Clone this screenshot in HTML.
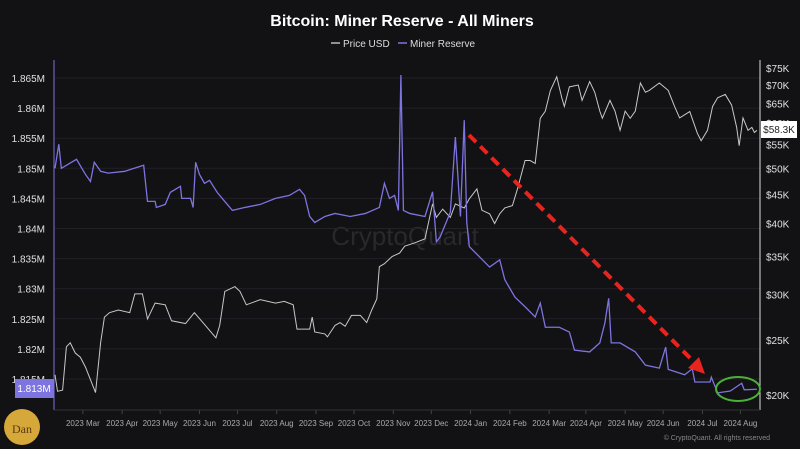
<!DOCTYPE html>
<html><head><meta charset="utf-8"><style>
html,body{margin:0;padding:0;background:#121114;}
svg{display:block;font-family:"Liberation Sans",sans-serif;}
</style></head><body>
<svg id="chart" width="800" height="449" viewBox="0 0 800 449">
<rect width="800" height="449" fill="#121114"/>
<text x="402" y="26" text-anchor="middle" fill="#ffffff" font-size="16" font-weight="bold">Bitcoin: Miner Reserve - All Miners</text>
<g>
<g><line x1="331" y1="43" x2="340" y2="43" stroke="#bbb" stroke-width="1.5"/><text x="343" y="47" fill="#ddd" font-size="10">Price USD</text></g>
<g><line x1="398" y1="43" x2="407" y2="43" stroke="#7d74e0" stroke-width="1.5"/><text x="410" y="47" fill="#ddd" font-size="10">Miner Reserve</text></g>
</g>
<text x="405" y="245" text-anchor="middle" fill="#2a282d" font-size="26">CryptoQuant</text>
<g id="grid"></g>
<g id="axes"></g>
<g id="series"></g>
<g>
<line x1="469" y1="135" x2="694" y2="362" stroke="#e8241f" stroke-width="4" stroke-dasharray="10,6"/>
<polygon points="705,374 688,368 699,357" fill="#e8241f"/>
</g>
<ellipse cx="738" cy="389" rx="22" ry="12" fill="none" stroke="#4caf38" stroke-width="2"/>
<g><rect x="15" y="379" width="39" height="19" fill="#7d74e0"/><text x="34" y="392" text-anchor="middle" fill="#fff" font-size="10">1.813M</text></g>
<g><rect x="761" y="121" width="36" height="17" fill="#fff"/><text x="779" y="133" text-anchor="middle" fill="#222" font-size="10">$58.3K</text></g>
<g><circle cx="22" cy="427" r="18" fill="#d6a83a"/><text x="22" y="433" text-anchor="middle" fill="#5a3a10" font-size="12" font-family="Liberation Serif,serif">Dan</text></g>
<text x="770" y="440" text-anchor="end" fill="#888" font-size="7">© CryptoQuant. All rights reserved</text>
</svg>
<script>
// day index 0 = 2023-02-07
const reserveDays=[0,3,5,17,24,28,31,36,42,55,70,73,79,80,87,91,99,100,107,109,111,114,118,122,128,134,140,150,162,174,185,193,197,201,205,213,221,233,245,256,260,264,268,271,273,275,280,292,298,301,304,312,316,320,323,325,327,335,343,351,355,363,371,379,383,387,398,406,410,422,430,434,437,439,446,458,466,477,482,484,497,503,505,517,518,523,533,542,544,554];
const reserveValues=[1.850,1.854,1.850,1.8515,1.849,1.8478,1.851,1.8495,1.8492,1.8495,1.8505,1.8445,1.8445,1.8435,1.844,1.846,1.847,1.845,1.845,1.8435,1.851,1.849,1.8475,1.848,1.846,1.8445,1.843,1.8435,1.844,1.845,1.8455,1.8465,1.8455,1.842,1.841,1.842,1.8425,1.842,1.8425,1.8435,1.8475,1.845,1.8455,1.843,1.8655,1.843,1.8425,1.842,1.8461,1.8378,1.8386,1.8427,1.8552,1.842,1.858,1.841,1.837,1.8353,1.8336,1.8348,1.8315,1.8286,1.827,1.8253,1.8276,1.8236,1.8236,1.8228,1.8198,1.8195,1.821,1.8243,1.8284,1.821,1.821,1.8195,1.8173,1.8168,1.8203,1.8166,1.8157,1.8167,1.8145,1.8145,1.8153,1.8127,1.813,1.8143,1.8132,1.8133];
const priceDays=[0,2,6,9,12,16,20,24,32,36,39,43,50,59,63,69,73,79,87,92,103,110,118,127,130,134,142,146,151,162,174,181,188,191,201,203,205,213,215,221,225,229,234,241,246,250,254,256,260,266,272,276,284,292,298,301,306,312,316,323,327,333,337,343,347,351,355,361,365,371,375,379,383,387,391,396,400,402,406,413,416,422,426,430,432,438,442,446,450,454,458,462,466,469,477,484,489,493,501,507,510,515,519,523,529,534,538,540,543,547,550,552,554];
const priceValues=[21.7,20.3,20.4,24.3,24.7,23.7,23.3,22.4,20.2,24.7,27.4,27.9,28.2,27.9,30.1,30.1,27.2,29.0,28.8,27.0,26.7,27.9,26.6,25.2,26.5,30.4,31.0,30.4,28.8,29.4,29.0,29.2,28.8,26.1,26.1,27.4,25.8,25.6,25.3,26.5,26.8,26.4,27.6,27.6,26.8,28.2,29.5,33.6,34.0,35.0,35.5,36.5,37.0,37.6,43.3,41.0,42.4,41.0,43.3,42.6,44.2,46.0,42.2,41.6,40.0,41.6,42.6,43.0,46.0,51.6,51.6,51.0,61.2,63.0,68.5,72.4,66.5,64.2,69.5,70.0,65.8,71.0,68.0,63.0,61.2,65.8,63.0,58.3,63.0,61.2,63.0,70.6,68.0,68.5,70.6,68.5,64.2,61.3,62.9,57.6,55.9,58.3,64.2,66.5,67.4,64.6,59.0,54.8,61.3,58.3,59.0,57.8,58.3];
const leftTicks=[1.865,1.86,1.855,1.85,1.845,1.84,1.835,1.83,1.825,1.82,1.815];
const leftTickLabels=["1.865M","1.86M","1.855M","1.85M","1.845M","1.84M","1.835M","1.83M","1.825M","1.82M","1.815M"];
const rightTicks=[75,70,65,60,55,50,45,40,35,30,25,20];
const rightTickLabels=["$75K","$70K","$65K","$60K","$55K","$50K","$45K","$40K","$35K","$30K","$25K","$20K"];
const monthDays=[22,53,83,114,144,175,206,236,267,297,328,359,390,419,450,480,511,541];
const monthLabels=["2023 Mar","2023 Apr","2023 May","2023 Jun","2023 Jul","2023 Aug","2023 Sep","2023 Oct","2023 Nov","2023 Dec","2024 Jan","2024 Feb","2024 Mar","2024 Apr","2024 May","2024 Jun","2024 Jul","2024 Aug"];

const NS="http://www.w3.org/2000/svg";
const xS=d=>55+d*1.267;
const yL=v=>78+(1.865-v)/0.005*30.1;
const yR=p=>68+Math.log(75/p)*247.4;
function mk(tag,attrs,parent){const e=document.createElementNS(NS,tag);for(const k in attrs)e.setAttribute(k,attrs[k]);parent.appendChild(e);return e;}
const grid=document.getElementById('grid'),axes=document.getElementById('axes'),series=document.getElementById('series');
leftTicks.forEach((v,i)=>{
  const l=mk('line',{x1:55,x2:760,y1:yL(v),y2:yL(v),stroke:'#222126','stroke-width':1},grid);
  
  
  const t=mk('text',{x:45,y:yL(v)+4,'text-anchor':'end',fill:'#e0e0e0','font-size':10},axes);
  t.textContent=leftTickLabels[i];
  
  
});
rightTicks.forEach((v,i)=>{
  const t=mk('text',{x:766,y:yR(v)+4,fill:'#e0e0e0','font-size':10},axes);
  t.textContent=rightTickLabels[i];
  
  
});
monthDays.forEach((d,i)=>{
  const tk=mk('line',{x1:xS(d),x2:xS(d),y1:410,y2:414,stroke:'#444'},axes);
  
  
  const t=mk('text',{x:xS(d),y:426,'text-anchor':'middle',fill:'#aaa','font-size':8},axes);
  t.textContent=monthLabels[i];
  
  
});
const la=mk('line',{x1:54,x2:54,y1:60,y2:410,stroke:'#7d74e0','stroke-width':1},axes);


const ra=mk('line',{x1:760,x2:760,y1:60,y2:410,stroke:'#dddddd','stroke-width':1},axes);


const ba=mk('line',{x1:54,x2:760,y1:410,y2:410,stroke:'#333'},axes);


const pp=mk('polyline',{points:priceDays.map((d,i)=>xS(d)+','+yR(priceValues[i])).join(' '),fill:'none',stroke:'#c8c8c8','stroke-width':1},series);


const rp=mk('polyline',{points:reserveDays.map((d,i)=>xS(d)+','+yL(reserveValues[i])).join(' '),fill:'none',stroke:'#7d74e0','stroke-width':1.3},series);


</script>
</body></html>
